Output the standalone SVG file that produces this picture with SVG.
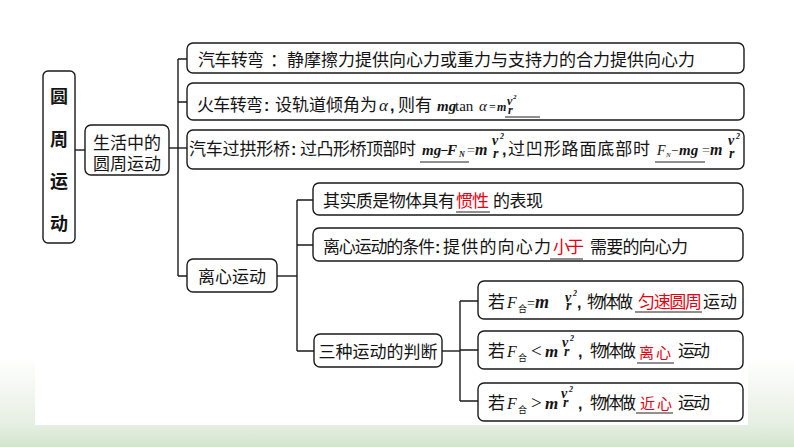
<svg xmlns="http://www.w3.org/2000/svg" width="794" height="447" viewBox="0 0 794 447">
<defs>
<linearGradient id="bg" x1="0" y1="0" x2="0" y2="1">
<stop offset="0" stop-color="#ffffff"/>
<stop offset="0.8" stop-color="#ffffff"/>
<stop offset="0.95" stop-color="#e6efe2"/>
<stop offset="1" stop-color="#d3e4cd"/>
</linearGradient>
<style>
.box{fill:#fff;stroke:#1a1a1a;stroke-width:1.4}
.cn{font-family:"Noto Sans CJK SC","Noto Sans CJK TC",sans-serif;font-size:17px;fill:#141414}
.red{fill:#e60012}
.mi{font-family:"Liberation Serif",serif;font-style:italic;font-weight:bold;fill:#141414}
.mr{font-family:"Liberation Serif",serif;fill:#141414}
.col{font-family:"Liberation Sans",sans-serif;font-weight:bold;font-size:16px;fill:#141414}
.sub{font-family:"Noto Sans CJK SC",sans-serif;font-style:normal;font-size:9px}
.ul{stroke:#222;stroke-width:1.1}
.cl{fill:none;stroke:#1a1a1a;stroke-width:1.4}
</style>
</defs>
<rect x="0" y="0" width="794" height="447" fill="url(#bg)"/>
<rect x="35" y="0" width="713" height="425" fill="#fff"/>

<g id="connectors">
<path class="cl" d="M75 150H85"/>
<path class="cl" d="M169 148H187"/>
<path class="cl" d="M178 59V276"/>
<path class="cl" d="M178 59H187M178 102H187M178 276H187"/>
<path class="cl" d="M277 276H297"/>
<path class="cl" d="M297 200V351"/>
<path class="cl" d="M297 200H313M297 245H313M297 351H314"/>
<path class="cl" d="M442 351H460"/>
<path class="cl" d="M460 301V401"/>
<path class="cl" d="M460 301H478M460 350H478M460 401H478"/>
</g>

<g id="root">
<rect class="box" x="43" y="71" width="32" height="172" rx="5"/>
<g class="cn" style="font-weight:bold;font-size:18px" text-anchor="middle">
<text x="59" y="103">圆</text>
<text x="59" y="146">周</text>
<text x="59" y="188">运</text>
<text x="59" y="230">动</text>
</g>
</g>

<g id="n-life">
<rect class="box" x="85" y="125" width="84" height="50" rx="6"/>
<text class="cn" x="127" y="148.5" text-anchor="middle">生活中的</text>
<text class="cn" x="127" y="169.5" text-anchor="middle">圆周运动</text>
</g>

<g id="n-car">
<rect class="box" x="187" y="43" width="557" height="30" rx="6"/>
<text class="cn" x="198" y="66" textLength="66">汽车转弯</text>
<text class="cn" x="270" y="66">：</text>
<text class="cn" x="287" y="66" textLength="408">静摩擦力提供向心力或重力与支持力的合力提供向心力</text>
</g>

<g id="n-train">
<rect class="box" x="187" y="83" width="557" height="37" rx="6"/>
<text class="cn" x="197" y="111" textLength="66">火车转弯</text>
<text class="col" x="264" y="111">:</text>
<text class="cn" x="275" y="111" textLength="102">设轨道倾角为</text>
<text class="mr" x="379" y="111" style="font-style:italic;font-size:17px">α</text>
<text class="col" x="390" y="111">,</text>
<text class="cn" x="398" y="111" textLength="34">则有</text>
<text class="mr" x="437" y="111" style="font-size:15px"><tspan class="mi">mg</tspan><tspan x="455">tan</tspan><tspan x="479" style="font-style:italic">α</tspan></text>
<text class="mr red" x="489" y="111" style="font-size:12px">=<tspan class="mi" x="497">m</tspan></text>
<text class="mi red" style="font-size:12px"><tspan x="507" y="104.5">v</tspan><tspan x="513" y="99" style="font-size:7px">2</tspan><tspan x="508" y="114">r</tspan></text>
<line class="ul" x1="505" y1="117" x2="540" y2="117"/>
</g>

<g id="n-bridge">
<rect class="box" x="187" y="130" width="557" height="39" rx="6"/>
<text class="cn" x="189" y="154.5" textLength="101">汽车过拱形桥</text>
<text class="col" x="291" y="154.5">:</text>
<text class="cn" x="300" y="154.5" textLength="116">过凸形桥顶部时</text>
<text class="mi red" x="422" y="154.5" style="font-size:15px">mg<tspan class="mr" x="440" style="font-size:14px">−</tspan><tspan class="mr" x="447" style="font-style:italic">F</tspan><tspan class="mr" x="459" y="157" style="font-size:8px;font-style:italic">N</tspan></text>
<text class="mr" x="467" y="154.5" style="font-size:14px;fill:#555">=<tspan class="mi" x="475" style="font-size:16px;fill:#141414">m</tspan></text>
<text class="mi" style="font-size:14px"><tspan x="492" y="145">v</tspan><tspan x="500" y="139" style="font-size:8px">2</tspan><tspan x="493" y="158">r</tspan></text>
<text class="col" x="502" y="154.5">,</text>
<text class="cn" x="508" y="154.5" textLength="142">过凹形路面底部时</text>
<text class="mr red" x="657" y="154.5" style="font-size:14px;font-style:italic">F<tspan x="666" y="157" style="font-size:7px">N</tspan><tspan x="671" y="154.5" style="font-style:normal;font-size:13px">−</tspan><tspan class="mi" x="679" style="font-size:15px">mg</tspan></text>
<text class="mr" x="702" y="154.5" style="font-size:14px;fill:#555">=<tspan class="mi" x="710" style="font-size:16px;fill:#141414">m</tspan></text>
<text class="mi" style="font-size:14px"><tspan x="728" y="145">v</tspan><tspan x="736" y="139" style="font-size:8px">2</tspan><tspan x="729" y="158">r</tspan></text>
<line class="ul" x1="420" y1="162" x2="469" y2="162"/>
<line class="ul" x1="655" y1="162" x2="705" y2="162"/>
</g>

<g id="n-centrifugal">
<rect class="box" x="187" y="259" width="90" height="33" rx="6"/>
<text class="cn" x="232" y="282.5" text-anchor="middle">离心运动</text>
</g>

<g id="n-essence">
<rect class="box" x="313" y="183" width="430" height="32" rx="6"/>
<text class="cn" x="323" y="207" textLength="132">其实质是物体具有</text>
<text class="cn red" x="456" y="207" textLength="33">惯性</text>
<text class="cn" x="493" y="207" textLength="50">的表现</text>
<line class="ul" x1="456" y1="212" x2="490" y2="212"/>
</g>

<g id="n-condition">
<rect class="box" x="313" y="228" width="430" height="33" rx="6"/>
<text class="cn" x="323" y="253" textLength="112">离心运动的条件</text>
<text class="col" x="435" y="253">:</text>
<text class="cn" x="443" y="253" textLength="108">提供的向心力</text>
<text class="cn red" x="553" y="253" textLength="31">小于</text>
<text class="cn" x="590" y="253" textLength="98">需要的向心力</text>
<line class="ul" x1="550" y1="259" x2="583" y2="259"/>
</g>

<g id="n-three">
<rect class="box" x="314" y="334" width="128" height="33" rx="6"/>
<text class="cn" x="378" y="358" text-anchor="middle">三种运动的判断</text>
</g>

<g id="n-uniform">
<rect class="box" x="478" y="281" width="265" height="38" rx="6"/>
<text class="cn" x="488" y="308">若</text>
<text class="mr" x="507" y="308" style="font-size:16px;font-style:italic">F<tspan class="sub" x="518" y="312">合</tspan><tspan x="527" y="308" style="font-style:normal;font-size:14px">=</tspan><tspan class="mi" x="535" style="font-size:18px">m</tspan></text>
<text class="mi" style="font-size:14px"><tspan x="565" y="302">v</tspan><tspan x="573" y="296" style="font-size:8px">2</tspan><tspan x="566" y="310">r</tspan></text>
<text class="col" x="577" y="308">,</text>
<text class="cn" x="587" y="308" textLength="46">物体做</text>
<text class="cn red" x="638" y="308" textLength="64">匀速圆周</text>
<text class="cn" x="703" y="308" textLength="34">运动</text>
<line class="ul" x1="635" y1="312" x2="702" y2="312"/>
</g>

<g id="n-centri">
<rect class="box" x="478" y="331" width="265" height="38" rx="6"/>
<text class="cn" x="488" y="356.5">若</text>
<text class="mr" x="507" y="356.5" style="font-size:16px;font-style:italic">F<tspan class="sub" x="518" y="360.5">合</tspan><tspan x="531" y="357" style="font-style:normal;font-size:19px">&lt;</tspan><tspan class="mi" x="545" y="356.5" style="font-size:17px">m</tspan></text>
<text class="mi" style="font-size:14px"><tspan x="562" y="347">v</tspan><tspan x="570" y="341" style="font-size:8px">2</tspan><tspan x="564" y="356">r</tspan></text>
<text class="col" x="578" y="356.5">,</text>
<text class="cn" x="590" y="356.5" textLength="46">物体做</text>
<text class="cn red" x="639" y="357.5" style="font-size:15px" textLength="32">离心</text>
<text class="cn" x="678" y="356.5" textLength="32">运动</text>
<line class="ul" x1="637" y1="363" x2="674" y2="363"/>
</g>

<g id="n-centripetal">
<rect class="box" x="478" y="383" width="265" height="38" rx="6"/>
<text class="cn" x="488" y="408.5">若</text>
<text class="mr" x="507" y="408.5" style="font-size:16px;font-style:italic">F<tspan class="sub" x="518" y="412.5">合</tspan><tspan x="531" y="409" style="font-style:normal;font-size:19px">&gt;</tspan><tspan class="mi" x="545" y="408.5" style="font-size:17px">m</tspan></text>
<text class="mi" style="font-size:14px"><tspan x="561" y="398">v</tspan><tspan x="569" y="392" style="font-size:8px">2</tspan><tspan x="563" y="407">r</tspan></text>
<text class="col" x="578" y="408.5">,</text>
<text class="cn" x="590" y="408.5" textLength="46">物体做</text>
<text class="cn red" x="640" y="409" style="font-size:15px" textLength="32">近心</text>
<text class="cn" x="678" y="408.5" textLength="32">运动</text>
<line class="ul" x1="636" y1="413" x2="673" y2="413"/>
</g>
</svg>
